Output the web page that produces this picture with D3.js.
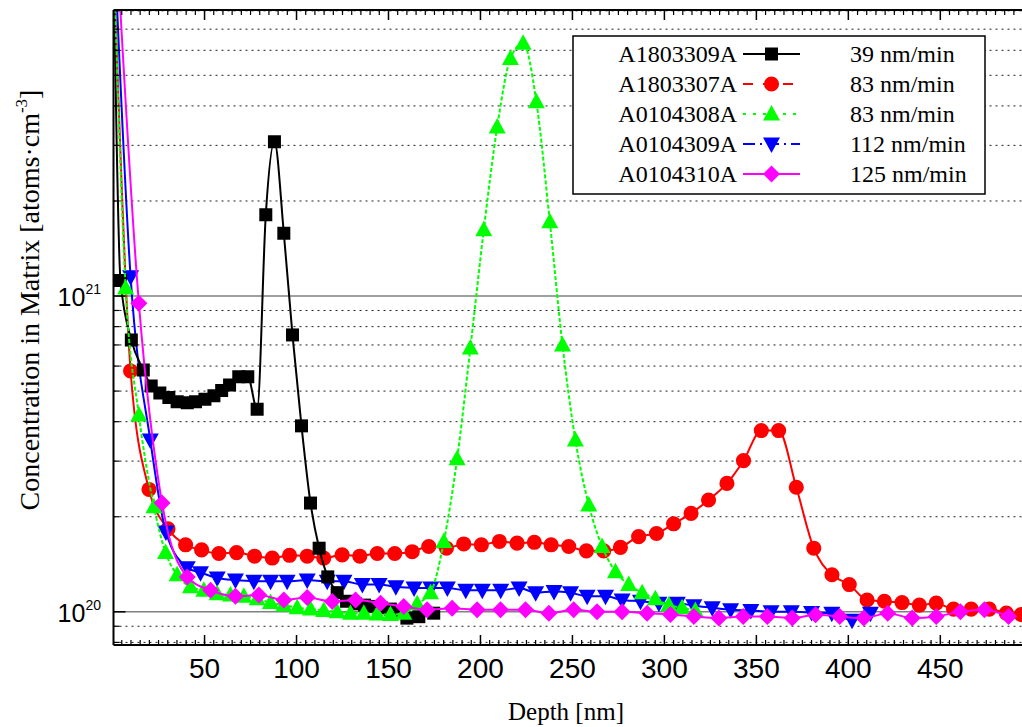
<!DOCTYPE html>
<html><head><meta charset="utf-8">
<script src="https://cdn.jsdelivr.net/npm/d3@7"></script>
<style>body{margin:0;background:#fff}svg{display:block}</style>
</head><body>
<svg id="c" width="1022" height="727"></svg>
<script>
// ---- data (depth in nm, concentration in units of 1e20 atoms/cm3) ----
const seriesNames = ["A1803309A","A1803307A","A0104308A","A0104309A","A0104310A"];
const seriesRates = ["39 nm/min","83 nm/min","83 nm/min","112 nm/min","125 nm/min"];
const seriesColors = ["#000000","#ff0000","#00ff00","#0000ff","#ff00ff"];

const blackDepth = [0.5,4.3,10.2,16.7,21.0,25.7,30.6,35.1,40.6,45.1,50.2,55.1,59.3,63.6,68.6,73.5,78.6,83.3,88.0,93.1,97.8,102.7,107.6,112.3,117.0,122.1,127.2,132,137,141.5,146,151,155.5,160,166.5,174.6];
const blackValue = [120,11.2,7.26,5.83,5.19,4.93,4.77,4.63,4.59,4.63,4.71,4.83,5.02,5.23,5.55,5.55,4.38,18.1,30.8,15.8,7.53,3.88,2.21,1.59,1.29,1.15,1.08,1.06,1.05,1.04,1.03,1.02,1.0,0.955,0.965,0.99];

const redDepth = [0.5,9.8,19.8,30.1,39.7,48.4,57.8,67.4,77.2,86.8,96.2,105.8,114.8,124.8,134.4,143.9,153.4,162.9,171.9,181.5,190.9,200.5,210.3,219.9,229.3,238.4,248,257.6,267,276.1,286,295.7,305,314.5,324,334,343,352.7,362.1,371.7,381.2,391.1,400.5,410.2,419.6,429.2,438.6,447.8,457.2,466.8,476.6,485.9,494];
const redValue = [120,5.79,2.44,1.83,1.63,1.57,1.53,1.54,1.50,1.48,1.51,1.50,1.48,1.515,1.50,1.53,1.53,1.55,1.61,1.59,1.64,1.63,1.67,1.65,1.66,1.63,1.61,1.56,1.56,1.60,1.73,1.77,1.90,2.05,2.26,2.55,3.01,3.75,3.75,2.48,1.59,1.31,1.22,1.09,1.08,1.07,1.05,1.065,1.02,1.02,1.02,0.99,0.98];

const greenDepth = [0.5,7.1,14.3,22.5,28.8,35.1,42.35,49.6,56.85,64.1,71.35,78.6,85.85,93.1,100.35,107.6,114.85,122.1,129.35,136.6,143.85,151.1,158.35,165.6,172.85,180.1,187.3,194.5,201.8,209.1,216.3,223.2,230.4,237.7,244.6,251.6,258.9,266.1,273.4,280.6,287.9,295.1,302.4,309.6,316.8];
const greenValue = [120,10.6,4.2,2.15,1.54,1.31,1.20,1.17,1.14,1.13,1.12,1.10,1.07,1.05,1.03,1.02,1.01,1.0,0.99,0.99,0.985,0.98,0.99,1.06,1.15,1.67,3.05,6.84,16.2,34.3,56.5,63.2,41.2,17.2,7.0,3.50,2.18,1.61,1.34,1.22,1.15,1.10,1.05,1.03,1.01];

const blueDepth = [0.5,9.8,20.5,29.0,40.6,47.8,56.9,66.8,76.8,85.9,94.9,105.8,116.7,125.8,135.8,144.9,154,163.9,173,182,192,201,211,221,230,240,249,258,268,277,287,297,307,316,326,336,347,358,369,380,391,402,412];
const blueValue = [150,11.5,3.5,1.79,1.38,1.33,1.28,1.26,1.25,1.25,1.25,1.26,1.25,1.25,1.22,1.22,1.20,1.19,1.19,1.19,1.17,1.17,1.17,1.19,1.15,1.16,1.15,1.12,1.12,1.09,1.08,1.065,1.065,1.045,1.03,1.015,1.01,1.0,1.0,0.995,0.99,0.94,0.99];

const magentaDepth = [0.5,14.3,26.9,40.6,53.3,66.8,79.5,93.1,105.8,119.4,132.1,145.7,158.3,171,184.6,198.2,210.9,224.5,237.2,250.7,263.4,277,290.6,303.3,316,329.6,342.8,355.9,369.5,382.2,395.3,408.4,421.4,434.7,447.8,460.9,474,487.1];
const magentaValue = [200,9.48,2.21,1.29,1.17,1.12,1.13,1.09,1.11,1.078,1.09,1.065,1.04,1.015,1.027,1.015,1.015,1.015,0.99,1.015,1.0,1.0,0.99,0.98,0.966,0.955,0.966,0.966,0.955,0.978,0.966,0.955,0.99,0.955,0.966,1.0,1.015,0.966];

const xMajorTicks = [50,100,150,200,250,300,350,400,450];
const yMajorTicks = [1e20,1e21];
const yMajorLabels = ["20","21"];

// ---- layout ----
const svg = d3.select("#c");
const L=113.5, R=1024, T=10, B=645;
const x = d3.scaleLinear().domain([0.5,495.5]).range([L,R]);
const y = d3.scaleLog().domain([7.85e19,8.05e21]).range([B,T]);

const defs = svg.append("defs");
defs.append("clipPath").attr("id","clip").append("rect").attr("x",L).attr("y",T).attr("width",R-L).attr("height",B-T);

const yMinor = [];
[1e19,1e20,1e21].forEach(p=>{for(let k=2;k<=9;k++){const v=k*p; if(v>=7.85e19&&v<=8.05e21) yMinor.push(v);}});

const grid = svg.append("g");
grid.selectAll("line.mn").data(yMinor).enter().append("line")
  .attr("x1",L).attr("x2",R).attr("y1",d=>y(d)).attr("y2",d=>y(d))
  .attr("stroke","#222").attr("stroke-width",1).attr("stroke-dasharray","2,4");
grid.selectAll("line.mj").data(yMajorTicks).enter().append("line")
  .attr("x1",L).attr("x2",R).attr("y1",d=>y(d)).attr("y2",d=>y(d))
  .attr("stroke","#808080").attr("stroke-width",1.5);

const series = [
  {d:blackDepth,v:blackValue,c:seriesColors[0],shape:"square",dash:null},
  {d:redDepth,v:redValue,c:seriesColors[1],shape:"circle",dash:null},
  {d:greenDepth,v:greenValue,c:seriesColors[2],shape:"tri",dash:"4,2"},
  {d:blueDepth,v:blueValue,c:seriesColors[3],shape:"tridown",dash:null},
  {d:magentaDepth,v:magentaValue,c:seriesColors[4],shape:"diamond",dash:null}
];
const drawOrder = [1,3,0,2,4];

function markerPath(shape){
  switch(shape){
    case "square": return "M-6.5,-6.5H6.5V6.5H-6.5Z";
    case "circle": return d3.symbol(d3.symbolCircle, 180)();
    case "tri": return "M0,-9L8.5,6.5H-8.5Z";
    case "tridown": return "M0,9L8.5,-6.5H-8.5Z";
    case "diamond": return "M0,-8.5L8.5,0L0,8.5L-8.5,0Z";
  }
}
const line = d3.line().x(p=>x(p[0])).y(p=>y(p[1]*1e20)).curve(d3.curveMonotoneX);
const plot = svg.append("g").attr("clip-path","url(#clip)");
drawOrder.forEach(i=>{
  const s = series[i];
  const pts = s.d.map((d,j)=>[d,s.v[j]]);
  const g = plot.append("g");
  g.append("path").datum(pts).attr("d",line).attr("fill","none")
    .attr("stroke",s.c).attr("stroke-width",2).attr("stroke-dasharray",s.dash);
  g.selectAll("path.m").data(pts).enter().append("path")
    .attr("d",markerPath(s.shape))
    .attr("transform",p=>`translate(${x(p[0])},${y(p[1]*1e20)})`)
    .attr("fill",s.c);
});

// axes frame
const ax = svg.append("g").attr("stroke","#000");
ax.append("line").attr("x1",L).attr("x2",L).attr("y1",T).attr("y2",B).attr("stroke-width",2);
ax.append("line").attr("x1",L).attr("x2",R).attr("y1",B).attr("y2",B).attr("stroke-width",2);
ax.append("line").attr("x1",L).attr("x2",R).attr("y1",T).attr("y2",T).attr("stroke-width",2);

const xMinor = d3.range(5,496,5).filter(v=>v%50!==0);
xMinor.forEach(v=>{
  ax.append("line").attr("x1",x(v)).attr("x2",x(v)).attr("y1",B).attr("y2",B-5).attr("stroke-width",1.2);
  ax.append("line").attr("x1",x(v)).attr("x2",x(v)).attr("y1",T).attr("y2",T+5).attr("stroke-width",1.2);
});
xMajorTicks.forEach(v=>{
  ax.append("line").attr("x1",x(v)).attr("x2",x(v)).attr("y1",B).attr("y2",B-10).attr("stroke-width",1.5);
  ax.append("line").attr("x1",x(v)).attr("x2",x(v)).attr("y1",T).attr("y2",T+10).attr("stroke-width",1.5);
});
yMinor.forEach(v=>{
  ax.append("line").attr("x1",L).attr("x2",L+6).attr("y1",y(v)).attr("y2",y(v)).attr("stroke-width",1.2);
});
yMajorTicks.forEach(v=>{
  ax.append("line").attr("x1",L).attr("x2",L+12).attr("y1",y(v)).attr("y2",y(v)).attr("stroke-width",1.5);
});

// tick labels
svg.append("g").selectAll("text").data(xMajorTicks).enter().append("text")
  .attr("x",d=>x(d)).attr("y",678).attr("text-anchor","middle")
  .attr("font-family","'Liberation Sans Narrow','Arial Narrow','Liberation Sans',sans-serif")
  .attr("font-size",28).text(d=>d);
yMajorTicks.forEach((v,i)=>{
  const t = svg.append("text").attr("x",101).attr("y",y(v)+10).attr("text-anchor","end")
    .attr("font-family","'Liberation Sans',Arial,sans-serif").attr("font-size",25);
  t.append("tspan").text("10");
  t.append("tspan").attr("font-size",14).attr("dy",-12).text(yMajorLabels[i]);
});

// axis titles
svg.append("text").attr("x",566).attr("y",720).attr("text-anchor","middle")
  .attr("font-family","'Liberation Serif','Times New Roman',serif").attr("font-size",25)
  .text("Depth [nm]");
const yt = svg.append("text").attr("transform","translate(39,300) rotate(-90)").attr("text-anchor","middle")
  .attr("font-family","'Liberation Serif','Times New Roman',serif").attr("font-size",28);
yt.append("tspan").text("Concentration in Matrix [atoms·cm");
yt.append("tspan").attr("font-size",17).attr("dy",-12).text("-3");
yt.append("tspan").attr("dy",12).text("]");

// legend
const lg = svg.append("g");
lg.append("rect").attr("x",573).attr("y",36).attr("width",412).attr("height",158)
  .attr("fill","#fff").attr("stroke","#000").attr("stroke-width",1.5);
const legDash = [null,"10,10","3,7","12,5,2,5",null];
series.forEach((s,i)=>{
  const cy = 54 + 30*i;
  lg.append("text").attr("x",737).attr("y",cy+8).attr("text-anchor","end")
    .attr("font-family","'Liberation Serif','Times New Roman',serif").attr("font-size",24).text(seriesNames[i]);
  lg.append("line").attr("x1",743).attr("x2",800).attr("y1",cy).attr("y2",cy)
    .attr("stroke",s.c).attr("stroke-width",2).attr("stroke-dasharray",legDash[i]);
  lg.append("path").attr("d",markerPath(s.shape)).attr("transform",`translate(771.5,${cy})`).attr("fill",s.c);
  lg.append("text").attr("x",850).attr("y",cy+8)
    .attr("font-family","'Liberation Serif','Times New Roman',serif").attr("font-size",24).text(seriesRates[i]);
});
</script>
</body></html>
